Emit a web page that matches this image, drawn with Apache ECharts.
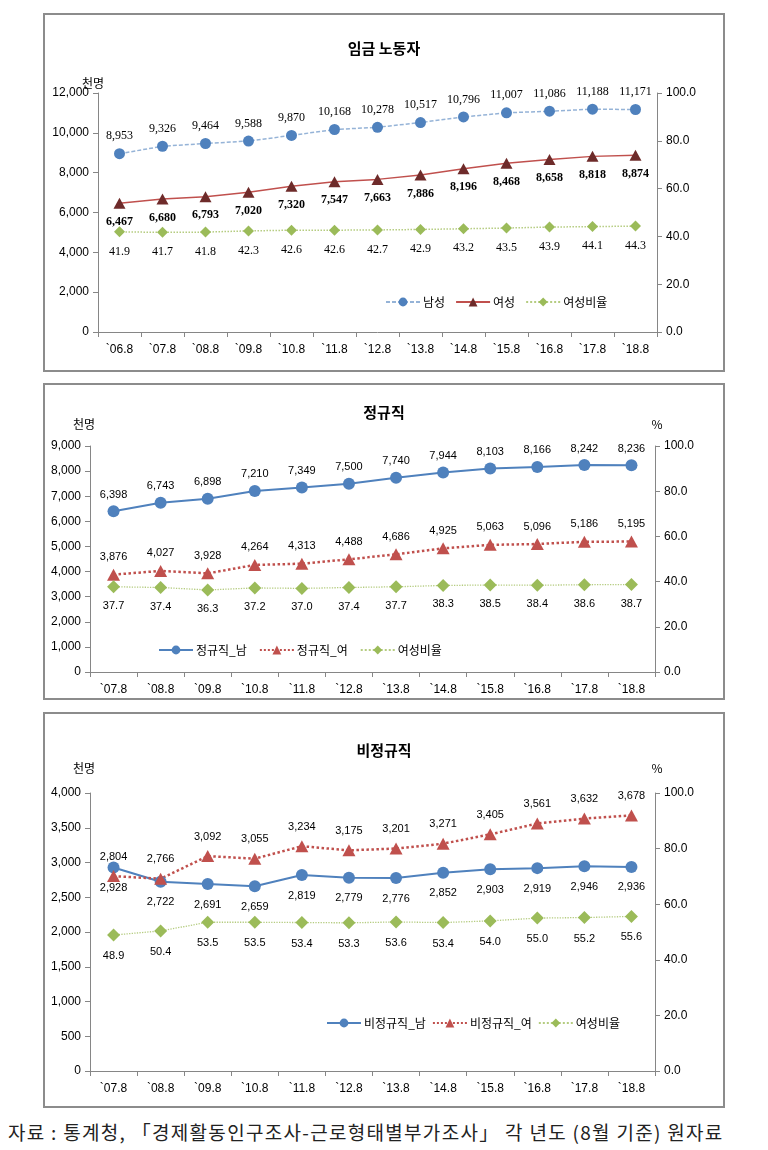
<!DOCTYPE html>
<html><head><meta charset="utf-8">
<script src="https://cdn.jsdelivr.net/npm/echarts@6/dist/echarts.min.js"></script>
<style>
body{margin:0;background:#fff;width:768px;height:1150px;position:relative;overflow:hidden;font-family:'Noto Sans CJK KR',sans-serif;}
.c{position:absolute;}
.b{position:absolute;border:2px solid #8c8c8c;box-sizing:border-box;pointer-events:none;}
#src{position:absolute;left:8px;top:1119px;font-size:19px;line-height:26px;letter-spacing:1.3px;color:#222;white-space:nowrap;font-family:'Noto Sans CJK KR',sans-serif;}
</style></head><body>
<div class="c" id="c1" style="left:43px;top:13px;width:682px;height:359px"></div>
<div class="b" style="left:43px;top:13px;width:682px;height:359px"></div>
<div class="c" id="c2" style="left:43px;top:383px;width:682px;height:317px"></div>
<div class="b" style="left:43px;top:383px;width:682px;height:317px"></div>
<div class="c" id="c3" style="left:43px;top:712px;width:682px;height:396px"></div>
<div class="b" style="left:43px;top:712px;width:682px;height:396px"></div>
<div id="src">자료 : 통계청, 「경제활동인구조사-근로형태별부가조사」 각 년도 (8월 기준) 원자료</div>
<script>
// ---------- data ----------
const cats1 = ['`06.8','`07.8','`08.8','`09.8','`10.8','`11.8','`12.8','`13.8','`14.8','`15.8','`16.8','`17.8','`18.8'];
const wageMale   = [8953, 9326, 9464, 9588, 9870, 10168, 10278, 10517, 10796, 11007, 11086, 11188, 11171];
const wageFemale = [6467, 6680, 6793, 7020, 7320, 7547, 7663, 7886, 8196, 8468, 8658, 8818, 8874];
const wageRatio  = [41.9, 41.7, 41.8, 42.3, 42.6, 42.6, 42.7, 42.9, 43.2, 43.5, 43.9, 44.1, 44.3];

const cats2 = ['`07.8','`08.8','`09.8','`10.8','`11.8','`12.8','`13.8','`14.8','`15.8','`16.8','`17.8','`18.8'];
const regMale   = [6398, 6743, 6898, 7210, 7349, 7500, 7740, 7944, 8103, 8166, 8242, 8236];
const regFemale = [3876, 4027, 3928, 4264, 4313, 4488, 4686, 4925, 5063, 5096, 5186, 5195];
const regRatio  = [37.7, 37.4, 36.3, 37.2, 37.0, 37.4, 37.7, 38.3, 38.5, 38.4, 38.6, 38.7];

const nonMale   = [2928, 2722, 2691, 2659, 2819, 2779, 2776, 2852, 2903, 2919, 2946, 2936];
const nonFemale = [2804, 2766, 3092, 3055, 3234, 3175, 3201, 3271, 3405, 3561, 3632, 3678];
const nonRatio  = [48.9, 50.4, 53.5, 53.5, 53.4, 53.3, 53.6, 53.4, 54.0, 55.0, 55.2, 55.6];

// ---------- style ----------
const NUMF = "'Liberation Sans Narrow','Liberation Sans','Noto Sans CJK KR',sans-serif";
const KF = "'Noto Sans CJK KR',sans-serif";
const SERIF = "'Liberation Serif','DejaVu Serif',serif";
const AX = '#868686';
const fmtN = p => Number(p.value).toLocaleString('en-US');
const fmtP = p => Number(p.value).toFixed(1);

function txt(t, x, y){
  return {type:'text', x:x, y:y, style:{text:t, align:'center', verticalAlign:'middle', textAlign:'center', textVerticalAlign:'middle', fill:'#000', font:'12px ' + KF}};
}

function axes(cats, lmax, lint){
  return {
    xAxis:{type:'category', data:cats, boundaryGap:true,
      axisLine:{lineStyle:{color:AX, width:1}},
      axisTick:{show:true, length:5, lineStyle:{color:AX}},
      axisLabel:{color:'#000', fontSize:12, fontFamily:NUMF, margin:12}},
    yAxis:[
      {type:'value', min:0, max:lmax, interval:lint, position:'left',
        axisLine:{show:true, lineStyle:{color:AX}}, axisTick:{show:true, length:5, lineStyle:{color:AX}},
        splitLine:{show:false},
        axisLabel:{color:'#000', fontSize:12, fontFamily:NUMF, margin:9, formatter:v => v.toLocaleString('en-US')}},
      {type:'value', min:0, max:100, interval:20, position:'right',
        axisLine:{show:true, lineStyle:{color:AX}}, axisTick:{show:true, length:5, lineStyle:{color:AX}},
        splitLine:{show:false},
        axisLabel:{color:'#000', fontSize:12, fontFamily:NUMF, margin:9, formatter:v => v.toFixed(1)}}
    ]
  };
}

function legend(left, top, gap){
  return {left:left, top:top, itemWidth:34, itemHeight:11, itemGap:gap,
    textStyle:{fontSize:12, fontFamily:KF, color:'#000', padding:[0,0,0,-2]}};
}

// ---------- chart 1 ----------
const c1 = echarts.init(document.getElementById('c1'), null, {renderer:'canvas'});
c1.setOption(Object.assign({
  animation:false,
  title:{text:'임금 노동자', left:'center', top:23, textStyle:{fontSize:15, fontWeight:'bold', color:'#000', fontFamily:KF}},
  graphic:[txt('천명', 50, 70)],
  legend:Object.assign(legend(337, 278, 10), {data:['남성','여성','여성비율']}),
  grid:{left:55, right:68, top:80, bottom:40},
  series:[
    {name:'남성', type:'line', data:wageMale, symbol:'circle', symbolSize:11,
      itemStyle:{color:'#4F81BD'}, lineStyle:{color:'#95B3D7', width:1.5, type:[4,2]},
      label:{show:true, position:'top', distance:6, formatter:fmtN, color:'#000', fontSize:12, fontFamily:SERIF}},
    {name:'여성', type:'line', data:wageFemale, symbol:'triangle', symbolSize:[12,11],
      itemStyle:{color:'#6E2B2A'}, lineStyle:{color:'#C0504D', width:1.5},
      label:{show:true, position:'bottom', distance:7, formatter:fmtN, color:'#000', fontSize:12, fontWeight:'bold', fontFamily:SERIF}},
    {name:'여성비율', type:'line', yAxisIndex:1, data:wageRatio, symbol:'diamond', symbolSize:11,
      itemStyle:{color:'#9BBB59'}, lineStyle:{color:'#B5CC80', width:1.5, type:'dotted'},
      label:{show:true, position:'bottom', distance:8, formatter:fmtP, color:'#000', fontSize:12, fontFamily:SERIF}}
  ]
}, axes(cats1, 12000, 2000)));

// ---------- chart 2 ----------
const c2 = echarts.init(document.getElementById('c2'), null, {renderer:'canvas'});
c2.setOption(Object.assign({
  animation:false,
  title:{text:'정규직', left:'center', top:17, textStyle:{fontSize:15, fontWeight:'bold', color:'#000', fontFamily:KF}},
  graphic:[txt('천명', 41, 41), txt('%', 614, 41)],
  legend:Object.assign(legend(110, 256, 12), {data:['정규직_남','정규직_여','여성비율']}),
  grid:{left:47, right:70, top:63, bottom:28},
  series:[
    {name:'정규직_남', type:'line', data:regMale, symbol:'circle', symbolSize:12,
      itemStyle:{color:'#4F81BD'}, lineStyle:{color:'#4F81BD', width:2},
      label:{show:true, position:'top', distance:5, formatter:fmtN, color:'#000', fontSize:11, fontFamily:NUMF}},
    {name:'정규직_여', type:'line', data:regFemale, symbol:'triangle', symbolSize:[13,12],
      itemStyle:{color:'#C0504D'}, lineStyle:{color:'#C0504D', width:2.5, type:'dotted'},
      label:{show:true, position:'top', distance:6, formatter:fmtN, color:'#000', fontSize:11, fontFamily:NUMF}},
    {name:'여성비율', type:'line', yAxisIndex:1, data:regRatio, symbol:'diamond', symbolSize:13,
      itemStyle:{color:'#9BBB59'}, lineStyle:{color:'#B5CC80', width:1.3, type:'dotted'},
      label:{show:true, position:'bottom', distance:7, formatter:fmtP, color:'#000', fontSize:11, fontFamily:NUMF}}
  ]
}, axes(cats2, 9000, 1000)));

// ---------- chart 3 ----------
const c3 = echarts.init(document.getElementById('c3'), null, {renderer:'canvas'});
c3.setOption(Object.assign({
  animation:false,
  title:{text:'비정규직', left:'center', top:26, textStyle:{fontSize:15, fontWeight:'bold', color:'#000', fontFamily:KF}},
  graphic:[txt('천명', 41, 56), txt('%', 614, 56)],
  legend:Object.assign(legend(278, 300, 6), {data:['비정규직_남','비정규직_여','여성비율']}),
  grid:{left:47, right:70, top:81, bottom:37},
  series:[
    {name:'비정규직_남', type:'line', data:nonMale, symbol:'circle', symbolSize:12,
      itemStyle:{color:'#4F81BD'}, lineStyle:{color:'#4F81BD', width:2},
      label:{show:true, position:'bottom', distance:9, formatter:fmtN, color:'#000', fontSize:11, fontFamily:NUMF}},
    {name:'비정규직_여', type:'line', data:nonFemale, symbol:'triangle', symbolSize:[13,12],
      itemStyle:{color:'#C0504D'}, lineStyle:{color:'#C0504D', width:2.5, type:'dotted'},
      label:{show:true, position:'top', distance:8, formatter:fmtN, color:'#000', fontSize:11, fontFamily:NUMF}},
    {name:'여성비율', type:'line', yAxisIndex:1, data:nonRatio, symbol:'diamond', symbolSize:13,
      itemStyle:{color:'#9BBB59'}, lineStyle:{color:'#B5CC80', width:1.3, type:'dotted'},
      label:{show:true, position:'bottom', distance:9, formatter:fmtP, color:'#000', fontSize:11, fontFamily:NUMF}}
  ]
}, axes(cats2, 4000, 500)));
</script>
</body></html>
